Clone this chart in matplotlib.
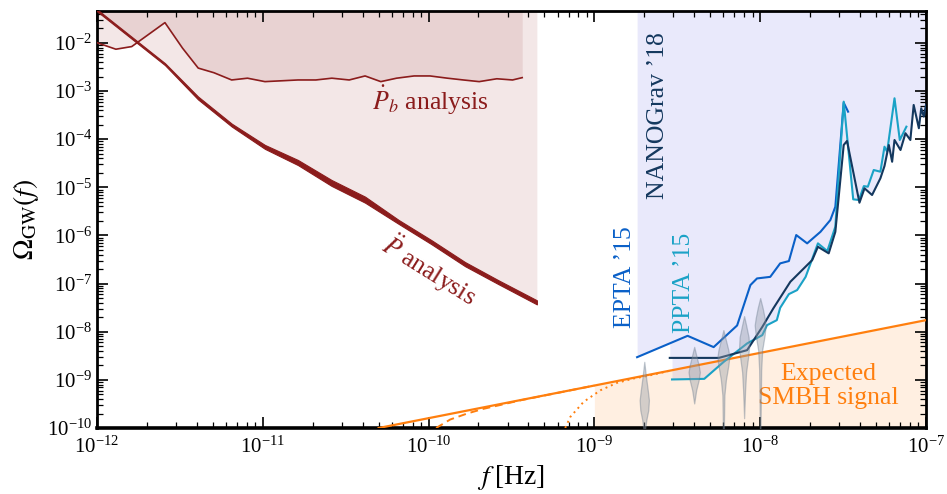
import numpy as np
import matplotlib
matplotlib.use('Agg')
from matplotlib import pyplot as plt

plt.rcParams['font.family'] = ['Liberation Serif', 'DejaVu Serif']
plt.rcParams['mathtext.fontset'] = 'stix'

# --- data ---
# P-double-dot bound (thick band: upper / lower edge)
pdd_f = [1e-12, 2.57e-12, 4.07e-12, 6.5e-12, 1.03e-11, 1.63e-11, 2.6e-11,
         4.14e-11, 6.6e-11, 1.04e-10, 1.66e-10, 2.63e-10, 4.5e-10]
pdd_hi = [5.0e-2, 3.8e-3, 7.7e-4, 2.1e-4, 7.6e-5, 3.7e-5, 1.42e-5,
          6.4e-6, 2.1e-6, 8.0e-7, 2.8e-7, 1.18e-7, 4.5e-8]
pdd_lo = [4.55e-2, 3.46e-3, 6.7e-4, 1.83e-4, 6.3e-5, 2.9e-5, 1.07e-5,
          4.8e-6, 1.74e-6, 6.6e-7, 2.3e-7, 9.8e-8, 3.7e-8]

# P_b-dot bound
pb_f = [1.0e-12, 1.30e-12, 1.62e-12, 2.57e-12, 3.28e-12, 4.08e-12, 5.08e-12,
        6.49e-12, 8.09e-12, 1.03e-11, 1.63e-11, 2.09e-11, 2.61e-11, 3.32e-11,
        4.14e-11, 5.15e-11, 6.41e-11, 8.18e-11, 1.02e-10, 1.30e-10, 1.62e-10,
        2.02e-10, 2.58e-10, 3.21e-10, 3.67e-10]
pb_omega = [1.01e-2, 7.4e-3, 8.4e-3, 2.64e-2, 7.8e-3, 3.0e-3, 2.4e-3,
            1.70e-3, 1.85e-3, 1.57e-3, 1.70e-3, 1.70e-3, 1.85e-3, 1.70e-3,
            2.06e-3, 1.57e-3, 1.85e-3, 2.06e-3, 2.06e-3, 1.85e-3, 1.70e-3,
            1.57e-3, 1.80e-3, 1.70e-3, 1.90e-3]

# PTA limits
epta_f = [1.81e-9, 3.65e-9, 5.24e-9, 7.26e-9, 8.73e-9, 9.57e-9, 1.15e-8, 1.32e-8,
          1.49e-8, 1.65e-8, 1.92e-8, 2.31e-8, 2.65e-8, 2.84e-8, 3.19e-8, 3.39e-8]
epta_omega = [2.96e-9, 8.22e-9, 4.79e-9, 1.35e-8, 9.31e-8, 1.28e-7, 1.38e-7, 2.63e-7,
              2.94e-7, 1.02e-6, 6.85e-7, 1.19e-6, 2.09e-6, 3.95e-6, 5.74e-4, 3.73e-4]

ppta_f = [2.94e-9, 4.60e-9, 6.03e-9, 8.34e-9, 1.03e-8, 1.10e-8, 1.26e-8, 1.32e-8,
          1.49e-8, 1.67e-8, 1.88e-8, 2.23e-8, 2.54e-8, 2.84e-8, 3.19e-8, 3.64e-8,
          3.94e-8, 4.22e-8, 4.46e-8, 4.84e-8, 5.31e-8, 5.62e-8, 5.83e-8, 6.46e-8,
          6.95e-8, 7.62e-8]
ppta_omega = [1.02e-9, 1.05e-9, 2.37e-9, 5.71e-9, 8.5e-9, 1.37e-8, 1.74e-8, 3.14e-8,
              6.05e-8, 7.33e-8, 1.38e-7, 6.85e-7, 4.74e-7, 1.52e-6, 6.02e-4, 5.63e-6,
              5.45e-6, 1.06e-5, 1.03e-5, 2.29e-5, 2.11e-5, 6.98e-5, 5.50e-5, 7.08e-4,
              9.62e-5, 1.82e-4]

nano_f = [2.85e-9, 5.63e-9, 8.34e-9, 1.03e-8, 1.20e-8, 1.52e-8, 2.06e-8, 2.23e-8,
          2.59e-8, 2.84e-8, 3.19e-8, 3.34e-8, 3.97e-8, 4.26e-8, 4.73e-8, 5.31e-8,
          5.62e-8, 5.97e-8, 6.25e-8, 6.46e-8, 7.02e-8, 7.52e-8, 8.05e-8, 8.43e-8,
          9.06e-8, 9.36e-8, 9.70e-8, 1.0e-7]
nano_omega = [2.86e-9, 2.86e-9, 4.14e-9, 1.26e-8, 3.05e-8, 1.09e-7, 3.08e-7, 5.82e-7,
              4.25e-7, 1.19e-6, 7.57e-5, 9.18e-5, 4.79e-6, 9.53e-6, 6.92e-6, 1.54e-5,
              2.77e-5, 7.57e-5, 3.40e-5, 9.62e-5, 5.96e-5, 1.33e-4, 9.62e-5, 5.14e-4,
              1.69e-4, 4.39e-4, 2.94e-4, 5.14e-4]

# expected SMBH signal
smbh_f = [5e-11, 1e-9, 1e-7]
smbh_omega = [1e-10, 7.62e-10, 1.74e-8]
smbh_dash_f = [1.11e-10, 1.35e-10, 1.71e-10, 2.14e-10, 2.70e-10, 3.57e-10, 1e-9]
smbh_dash_omega = [1e-10, 1.5e-10, 2.0e-10, 2.5e-10, 3.0e-10, 3.75e-10, 7.62e-10]
smbh_dot_f = [6.67e-10, 7.16e-10, 8.61e-10, 1.09e-9, 1.37e-9, 1.73e-9, 2.07e-9, 3e-9]
smbh_dot_omega = [1e-10, 1.70e-10, 3.49e-10, 6.1e-10, 8.67e-10, 1.07e-9, 1.2e-9, 1.61e-9]

# NANOGrav free-spectrum violins: frequency, Omega levels, half widths (dex)
violin_f = [2e-9, 4e-9, 6e-9, 8e-9, 1e-8]
violin_levels = [
    [2.37e-9, 1.25e-9, 6.1e-10, 3.8e-10, 2.34e-10, 1.45e-10, 1e-10, 6e-11],
    [4.85e-9, 3.27e-9, 2.02e-9, 1.45e-9, 9.9e-10, 6.1e-10, 3.24e-10],
    [1.08e-8, 6.68e-9, 4.14e-9, 2.96e-9, 2.02e-9, 9.9e-10, 4.8e-10, 1e-10, 6e-11],
    [2.11e-8, 1.37e-8, 7.73e-9, 4.79e-9, 2.96e-9, 1.45e-9, 6.1e-10, 1.6e-10],
    [5.0e-8, 3.1e-8, 1.92e-8, 1.37e-8, 8.5e-9, 4.14e-9, 1.59e-9, 1e-10, 6e-11],
]
violin_widths = [
    [0, .009, .021, .028, .024, .012, .006, .004],
    [0, .012, .027, .034, .027, .012, 0],
    [0, .015, .030, .036, .030, .015, .006, .003, .003],
    [0, .012, .027, .030, .024, .012, .006, 0],
    [0, .015, .027, .033, .027, .012, .006, .002, .002],
]

red = '#8b1c1c'
c_epta = '#0a60c8'
c_ppta = '#1aa2c6'
c_nano = '#14385e'
orange = '#ff7f0e'
lavender = '#e9e9fb'

ymin, ymax = 1e-10, 4.6e-2

fig = plt.figure(figsize=(9.47, 4.94), dpi=100)
ax = fig.add_axes([0.1024, 0.1336, 0.8754, 0.8441])
ax.set_xscale('log')
ax.set_yscale('log')

# PTA regions
for f, om in [(epta_f, epta_omega), (ppta_f, ppta_omega), (nano_f, nano_omega)]:
    ax.fill_between(f, om, ymax, color=lavender, lw=0, zorder=0)

# pulsar-timing regions (red)
ax.fill_between(pdd_f, pdd_hi, ymax, color=red, alpha=0.1, lw=0, zorder=1)
ax.fill_between(pb_f, pb_omega, ymax, color=red, alpha=0.1, lw=0, zorder=1)
ax.fill_between(pdd_f, pdd_lo, pdd_hi, color=red, edgecolor=red, lw=0.8, zorder=3)
ax.plot(pb_f, pb_omega, color=red, lw=1.2, zorder=3)

# SMBH signal
ax.fill_between(smbh_f[1:], ymin, smbh_omega[1:], color=orange, alpha=0.12, lw=0, zorder=1)
ax.plot(smbh_f, smbh_omega, color=orange, lw=1.6, zorder=4)
ax.plot(smbh_dash_f, smbh_dash_omega, color=orange, lw=1.4, ls=(0, (4, 2.5)), zorder=4)
ax.plot(smbh_dot_f, smbh_dot_omega, color=orange, lw=1.4, ls=(0, (1, 2)), zorder=4)

# PTA curves
ax.plot(epta_f, epta_omega, color=c_epta, lw=1.5, zorder=5)
ax.plot(ppta_f, ppta_omega, color=c_ppta, lw=1.5, zorder=5)
ax.plot(nano_f, nano_omega, color=c_nano, lw=1.5, zorder=5)

# violins
for fc, lev, w in zip(violin_f, violin_levels, violin_widths):
    lev = np.array(lev)
    w = np.array(w)
    ax.fill_betweenx(lev, fc * 10 ** (-w), fc * 10 ** w, facecolor='#939ba6',
                     edgecolor='#6a7b8e', alpha=0.4, lw=0.9, zorder=6)

# labels
ax.text(1.02e-10, 6.5e-4, r'$\dot{P}_b$ analysis', color=red, fontsize=18.5,
        ha='center', va='center')
ax.text(1.02e-10, 1.91e-7, r'$\ddot{P}$ analysis', color=red, fontsize=18.5,
        ha='center', va='center', rotation=-32)
ax.text(2.43e-9, 3.03e-4, 'NANOGrav ’18', color=c_nano, fontsize=18.5,
        ha='center', va='center', rotation=90)
ax.text(1.53e-9, 1.36e-7, 'EPTA ’15', color=c_epta, fontsize=18.5,
        ha='center', va='center', rotation=90)
ax.text(3.49e-9, 1.02e-7, 'PPTA ’15', color=c_ppta, fontsize=18.5,
        ha='center', va='center', rotation=90)
ax.text(2.58e-8, 7.4e-10, 'Expected\nSMBH signal', color=orange, fontsize=18.5,
        ha='center', va='center', linespacing=1.15)

ax.set_xlim(1e-12, 1e-7)
ax.set_ylim(ymin, ymax)
ax.set_xlabel(r'$f\;$[Hz]', fontsize=20)
ax.set_ylabel(r'$\Omega_{\rm GW}(f)$', fontsize=20)

ax.xaxis.set_major_locator(matplotlib.ticker.LogLocator(base=10, numticks=20))
ax.yaxis.set_major_locator(matplotlib.ticker.LogLocator(base=10, numticks=20))
ax.xaxis.set_minor_locator(matplotlib.ticker.LogLocator(base=10, subs=np.arange(2, 10), numticks=20))
ax.yaxis.set_minor_locator(matplotlib.ticker.LogLocator(base=10, subs=np.arange(2, 10), numticks=20))
ax.xaxis.set_minor_formatter(matplotlib.ticker.NullFormatter())
ax.yaxis.set_minor_formatter(matplotlib.ticker.NullFormatter())
ax.tick_params(which='both', direction='in', top=True, right=True, labelsize=15)
ax.tick_params(axis='x', which='major', pad=6)
ax.tick_params(which='major', length=8, width=1.2)
ax.tick_params(which='minor', length=4, width=0.9)
for s in ax.spines.values():
    s.set_linewidth(2)
ax.spines['bottom'].set_linewidth(2.6)

plt.savefig('out.png', dpi=100)
